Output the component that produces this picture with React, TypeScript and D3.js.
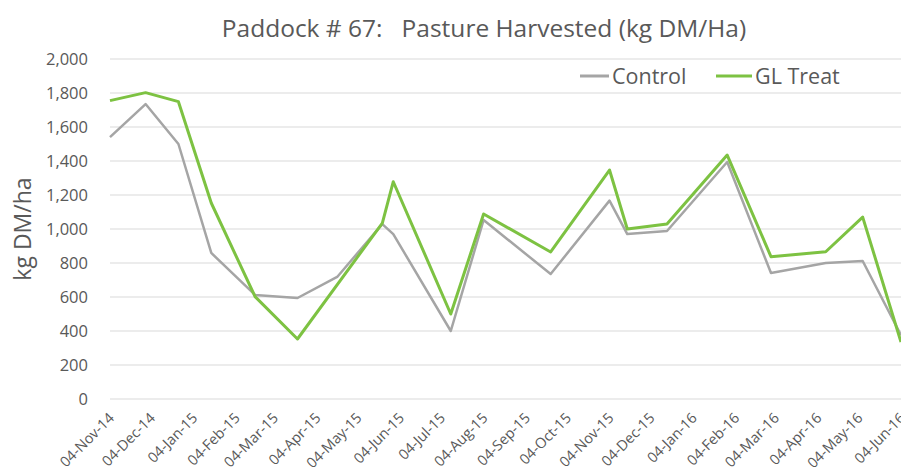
import * as d3 from "d3";
import { useRef, useEffect } from "react";

// sample dates (harvest readings)
const dates = [
  "2014-11-04", "2014-11-30", "2014-12-24", "2015-01-17", "2015-02-18",
  "2015-03-21", "2015-04-19", "2015-05-22", "2015-05-30", "2015-07-11",
  "2015-08-04", "2015-09-22", "2015-11-04", "2015-11-17", "2015-12-16",
  "2016-01-29", "2016-03-01", "2016-04-10", "2016-05-07", "2016-06-04",
];
const control = [
  1540, 1735, 1500, 859, 612, 594, 718, 1029, 970, 400,
  1053, 735, 1167, 970, 988, 1394, 741, 800, 812, 375,
];
const glTreat = [
  1755, 1802, 1749, 1153, 602, 353, null, 1035, 1278, 500,
  1088, 865, 1347, 1000, 1029, 1435, 837, 866, 1070, 335,
];
const yTicks = [0, 200, 400, 600, 800, 1000, 1200, 1400, 1600, 1800, 2000];
const seriesNames = ["Control", "GL Treat"];
const seriesColors = ["#a5a5a5", "#7dc242"];

const font = "'Open Sans', sans-serif";
const textColor = "#595959";

export default function App() {
  const svgRef = useRef<SVGSVGElement>(null);

  useEffect(() => {
    const width = 901;
    const height = 475;
    const svg = d3.select(svgRef.current).attr("width", width).attr("height", height);
    svg.selectAll("*").remove();

    const parse = d3.timeParse("%Y-%m-%d");
    const xDates = dates.map((d) => parse(d) as Date);

    //scales
    const xScale = d3.scaleTime().domain([xDates[0], xDates[xDates.length - 1]]).range([110, 901]);
    const yScale = d3.scaleLinear().domain([0, 2000]).range([399, 59]);

    //grid
    svg
      .append("g")
      .selectAll("line")
      .data(yTicks)
      .enter()
      .append("line")
      .attr("x1", 110)
      .attr("x2", width)
      .attr("y1", (d) => yScale(d))
      .attr("y2", (d) => yScale(d))
      .attr("stroke", "#d9d9d9")
      .attr("stroke-width", 1);

    //y tick labels
    const fmt = d3.format(",");
    svg
      .append("g")
      .selectAll("text")
      .data(yTicks)
      .enter()
      .append("text")
      .attr("x", 88)
      .attr("y", (d) => yScale(d))
      .attr("dy", "0.35em")
      .attr("text-anchor", "end")
      .attr("font-family", font)
      .attr("font-size", 16.5)
      .attr("fill", textColor)
      .text((d) => fmt(d));

    //x tick labels, monthly on the 4th
    const xTicks = d3.timeMonth
      .range(new Date(2014, 10, 1), new Date(2016, 5, 2))
      .map((m) => new Date(m.getFullYear(), m.getMonth(), 4));
    const xFmt = d3.timeFormat("%d-%b-%y");
    svg
      .append("g")
      .selectAll("text")
      .data(xTicks)
      .enter()
      .append("text")
      .attr("transform", (d) => `translate(${xScale(d) + 5},${419}) rotate(-45)`)
      .attr("text-anchor", "end")
      .attr("font-family", font)
      .attr("font-size", 14.5)
      .attr("fill", textColor)
      .text((d) => xFmt(d));

    //lines
    const series = [control, glTreat];
    series.forEach((values, i) => {
      const pts = values
        .map((v, j) => [xDates[j], v] as [Date, number | null])
        .filter((p) => p[1] !== null) as [Date, number][];
      const line = d3
        .line<[Date, number]>()
        .x((d) => xScale(d[0]))
        .y((d) => yScale(d[1]));
      svg
        .append("path")
        .attr("d", line(pts))
        .attr("fill", "none")
        .attr("stroke", seriesColors[i])
        .attr("stroke-width", i === 1 ? 3 : 2.5)
        .attr("stroke-linejoin", "round");
    });

    //title
    svg
      .append("text")
      .attr("x", 484)
      .attr("y", 37)
      .attr("text-anchor", "middle")
      .attr("font-family", font)
      .attr("font-size", 24.5)
      .attr("fill", textColor)
      .attr("xml:space", "preserve")
      .style("white-space", "pre")
      .text("Paddock # 67:   Pasture Harvested (kg DM/Ha)");

    //y axis label
    svg
      .append("text")
      .attr("transform", "translate(31,229) rotate(-90)")
      .attr("text-anchor", "middle")
      .attr("font-family", font)
      .attr("font-size", 23)
      .attr("fill", textColor)
      .text("kg DM/ha");

    //legend
    const legendX = [580, 716];
    seriesNames.forEach((name, i) => {
      const g = svg.append("g").attr("transform", `translate(${legendX[i]},76)`);
      g.append("line")
        .attr("x1", 0)
        .attr("x2", i === 0 ? 29 : 36)
        .attr("stroke", seriesColors[i])
        .attr("stroke-width", 3);
      g.append("text")
        .attr("x", i === 0 ? 32 : 39)
        .attr("dy", "0.35em")
        .attr("font-family", font)
        .attr("font-size", 21.5)
        .attr("fill", textColor)
        .text(name);
    });
  }, []);

  return (
    <div style={{ position: "absolute", left: 0, top: 0 }}>
      <svg ref={svgRef} style={{ display: "block" }}></svg>
    </div>
  );
}
